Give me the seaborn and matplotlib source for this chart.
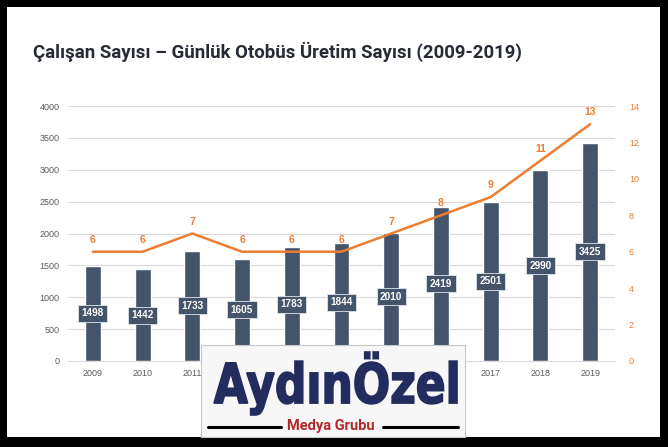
import numpy as np
import seaborn as sns
import matplotlib.pyplot as plt
from matplotlib.patches import Rectangle, PathPatch
from matplotlib.textpath import TextPath
from matplotlib.font_manager import FontProperties
from matplotlib.transforms import Affine2D

years = ['2009', '2010', '2011', '2012', '2013', '2014', '2015', '2016', '2017', '2018', '2019']
employees = [1498, 1442, 1733, 1605, 1783, 1844, 2010, 2419, 2501, 2990, 3425]
daily_buses = [6, 6, 7, 6, 6, 6, 7, 8, 9, 11, 13]

bar_color = '#44546A'
line_color = '#ED7D31'
tick_color = '#595959'

sns.set_style('white')
plt.rcParams['font.family'] = ['Liberation Sans', 'DejaVu Sans']

fig = plt.figure(figsize=(6.68, 4.47), dpi=100)
fig.patch.set_facecolor('black')
# white slide area inside the black frame
fig.patches.append(Rectangle((7 / 668, 10 / 447), 653 / 668, 430 / 447,
                             transform=fig.transFigure, facecolor='white',
                             edgecolor='none', zorder=-5))

fig.text(33 / 668, 1 - 58 / 447, 'Çalışan Sayısı – Günlük Otobüs Üretim Sayısı (2009-2019)',
         fontsize=13.4, fontweight='bold', color='#262B33', va='baseline', ha='left',
         family=['Roboto', 'DejaVu Sans'])

ax = fig.add_axes([68 / 668, 1 - 361 / 447, 547 / 668, 255 / 447])
ax.set_facecolor('none')
sns.barplot(x=years, y=employees, color=bar_color, width=0.32, saturation=1, ax=ax, zorder=2)
ax.set_ylim(0, 4000)
ax.set_xlim(-0.5, len(years) - 0.5)
ax.set_yticks(np.arange(0, 4001, 500))
ax.grid(axis='y', color='#D9D9D9', linewidth=0.8, zorder=0)
ax.set_axisbelow(True)
ax.set_xlabel('')
ax.set_ylabel('')
ax.tick_params(axis='both', labelsize=6.5, colors=tick_color, length=0, pad=6)
for s in ax.spines.values():
    s.set_visible(False)
ax.spines['bottom'].set_visible(True)
ax.spines['bottom'].set_color('#D9D9D9')

for i, v in enumerate(employees):
    ax.text(i, v / 2, str(v), ha='center', va='center', fontsize=7.2, fontweight='bold',
            color='white', zorder=4,
            bbox=dict(boxstyle='square,pad=0.35', facecolor=bar_color, edgecolor='#E0E4EA', linewidth=0.6))

ax2 = ax.twinx()
sns.lineplot(x=np.arange(len(years)), y=daily_buses, color=line_color, linewidth=1.8, ax=ax2, zorder=3)
ax2.set_ylim(0, 14)
ax2.set_yticks(np.arange(0, 15, 2))
ax2.set_ylabel('')
ax2.tick_params(axis='y', labelsize=6.5, colors=line_color, length=0, pad=10)
for s in ax2.spines.values():
    s.set_visible(False)
for i, v in enumerate(daily_buses):
    ax2.annotate(str(v), (i, v), xytext=(0, 8.5), textcoords='offset points', ha='center',
                 va='center', fontsize=7.5, fontweight='bold', color=line_color)

# watermark logo box
fig.patches.append(Rectangle((201 / 668, 10 / 447), 264 / 668, 92 / 447,
                             transform=fig.transFigure, facecolor='#F7F7F7',
                             edgecolor='#C8C8C8', linewidth=0.8, zorder=5))
fp = FontProperties(family='DejaVu Sans', weight='bold')
tp = TextPath((0, 0), 'AydınÖzel', prop=fp)
bb = tp.get_extents()
x0, x1 = 214, 457
y_top, y_bot = 352, 415
sx = (x1 - x0) / bb.width / 668
sy = (y_bot - y_top) / bb.height / 447
tr = Affine2D().translate(-bb.x0, -bb.y0).scale(sx, sy).translate(x0 / 668, 1 - y_bot / 447)
fig.patches.append(PathPatch(tr.transform_path(tp), transform=fig.transFigure,
                             facecolor='#232C5E', edgecolor='#232C5E', linewidth=1.2, zorder=6))
fig.text(331 / 668, 1 - 426 / 447, 'Medya Grubu', fontsize=10.5, fontweight='bold',
         color='#B3262B', ha='center', va='center', zorder=6,
         family=['Roboto', 'DejaVu Sans'])
fig.lines.append(plt.Line2D([208 / 668, 281 / 668], [1 - 427 / 447] * 2, transform=fig.transFigure,
                            color='black', linewidth=2.2, zorder=6))
fig.lines.append(plt.Line2D([383 / 668, 458 / 668], [1 - 427 / 447] * 2, transform=fig.transFigure,
                            color='black', linewidth=2.2, zorder=6))

fig.savefig('out.png', dpi=100, facecolor=fig.get_facecolor())
